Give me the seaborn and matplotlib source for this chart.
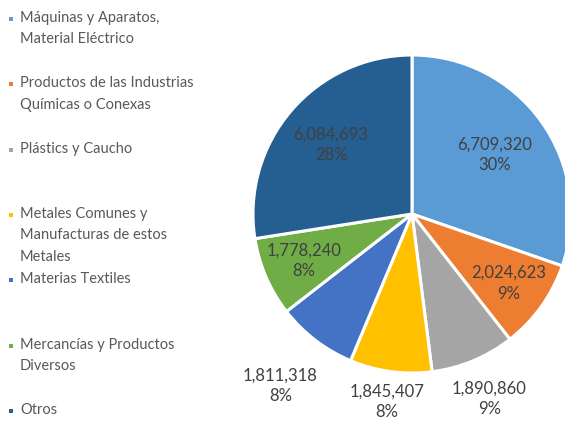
import numpy as np
import matplotlib
matplotlib.use("Agg")
import matplotlib.pyplot as plt
from matplotlib.patches import Rectangle
import seaborn as sns

# data
categorias = [
    "Máquinas y Aparatos,\nMaterial Eléctrico",
    "Productos de las Industrias\nQuímicas o Conexas",
    "Plástics y Caucho",
    "Metales Comunes y\nManufacturas de estos\nMetales",
    "Materias Textiles",
    "Mercancías y Productos\nDiversos",
    "Otros",
]
valores = [6709320, 2024623, 1890860, 1845407, 1811318, 1778240, 6084693]
colores = ["#5B9BD5", "#ED7D31", "#A5A5A5", "#FFC000", "#4472C4", "#70AD47", "#255E91"]

# label distance (fraction of radius) for each slice, like Excel's best fit
dist_etiquetas = [0.64, 0.75, 1.26, 1.19, 1.36, 0.74, 0.67]

sns.set_theme(style="white")
plt.rcParams["font.family"] = ["Lato", "DejaVu Sans"]

W, H = 565, 422
fig = plt.figure(figsize=(W / 100, H / 100), dpi=100)

# pie axes: centre ~ (412, 214) px, radius ~ 159 px
cx, cy, r = 412, 214, 159
ax = fig.add_axes([(cx - r) / W, (H - cy - r) / H, 2 * r / W, 2 * r / H])
pal = sns.color_palette(colores)
wedges, _ = ax.pie(valores, colors=pal, startangle=90, counterclock=False,
                   wedgeprops=dict(edgecolor="white", linewidth=2.2))
ax.set_xlim(-1, 1)
ax.set_ylim(-1, 1)
ax.set_aspect("equal")
ax.axis("off")

# percentages rounded so they add up to 100 (as Excel does)
total = sum(valores)
exact = [100 * v / total for v in valores]
pcts = [int(np.floor(e)) for e in exact]
resto = 100 - sum(pcts)
for i in sorted(range(len(exact)), key=lambda k: exact[k] - pcts[k], reverse=True)[:resto]:
    pcts[i] += 1

for w, v, p, d in zip(wedges, valores, pcts, dist_etiquetas):
    ang = np.deg2rad((w.theta1 + w.theta2) / 2)
    ax.text(d * np.cos(ang), d * np.sin(ang), f"{v:,}\n{p}%",
            ha="center", va="center", fontsize=12, color="#404040",
            linespacing=1.35, clip_on=False)

# legend on the left, one entry every ~65 px
for i, (cat, col) in enumerate(zip(categorias, colores)):
    ymid = 19 + 65.3 * i
    fig.text(20 / W, 1 - (ymid - 8) / H, cat, ha="left", va="top",
             fontsize=10.5, color="#595959", linespacing=1.68)
    fig.add_artist(Rectangle((9 / W, 1 - (ymid + 2) / H), 4 / W, 4 / H,
                             transform=fig.transFigure, color=col, lw=0))

fig.savefig("out.png", dpi=100)
